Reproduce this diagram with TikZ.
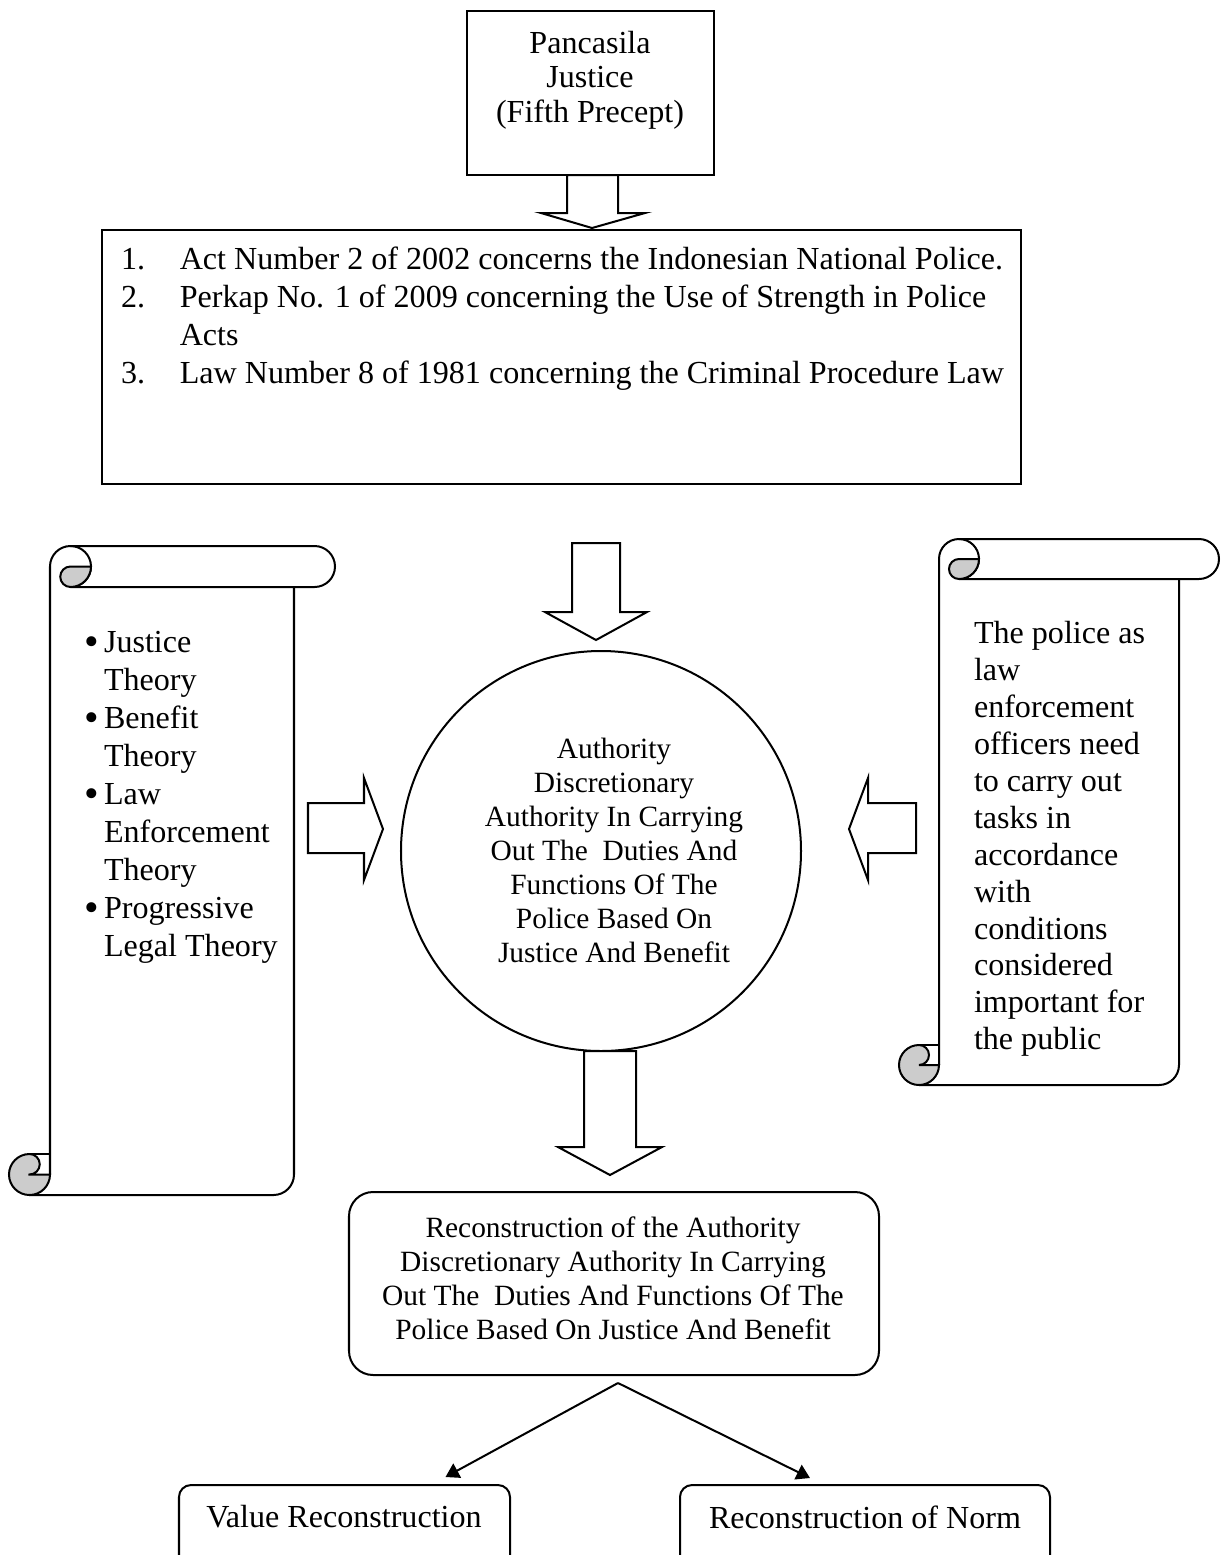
\documentclass[tikz,border=0pt]{standalone}
\usepackage{fontspec}
\setmainfont{Liberation Serif}
\usetikzlibrary{arrows.meta,calc,fit,positioning}

\begin{document}
\begin{tikzpicture}[x=0.374pt,y=-0.374pt,line width=0.75pt,
  box/.style={draw,inner sep=0pt},
  txt/.style={inner sep=0pt},
  hollow/.style={draw,fill=white},
  curl/.style={draw,fill=black!20},
  conn/.style={-{Triangle[length=5pt,width=6pt]}}]
  \useasboundingbox (0,0) rectangle (1227,1555);
  \clip (0,0) rectangle (1227,1555);
  % scroll: left, top, right, bottom, roll height
  \def\scrollshape#1#2#3#4#5{
    \draw ({#1+#5},{#4-#5/2}) -- ({#1+#5},{#2+#5/2})
      arc[start angle=180,end angle=270,radius={#5/2}] -- ({#3-#5/2},#2)
      arc[start angle=270,end angle=450,radius={#5/2}] -- ({#1+1.5*#5},{#2+#5});
    \draw ({#1+1.5*#5},#2) arc[start angle=270,end angle=450,radius={#5/2}];
    \draw[curl] ({#1+1.5*#5},{#2+#5/2}) -- ({#1+2*#5},{#2+#5/2})
      arc[start angle=0,end angle=90,radius={#5/2}]
      arc[start angle=90,end angle=270,radius={#5/4}] -- cycle;
    \draw ({#3-#5},{#2+#5}) -- ({#3-#5},{#4-#5/2})
      arc[start angle=0,end angle=90,radius={#5/2}] -- ({#1+#5/2},#4);
    \draw[curl] ({#1+#5/2},{#4-#5/2}) -- ({#1+#5},{#4-#5/2})
      arc[start angle=0,end angle=270,radius={#5/2}]
      arc[start angle=270,end angle=450,radius={#5/4}] -- cycle;
    \draw ({#1+#5/2},{#4-#5}) -- ({#1+#5},{#4-#5});
  }
  \def\bul{\raisebox{-1.1pt}{\scalebox{1.3}{\textbullet}}}

  % top boxes
  \node[box,fit={(467,11)(714,175)}] (pancasila) {};
  \node[txt,font=\fontsize{12}{12.9}\selectfont] (pancasilatext) at (590,81)
    {\begin{tabular}{@{}c@{}}Pancasila\\Justice\\(Fifth Precept)\end{tabular}};
  \node[box,fit={(102,230)(1021,484)}] (laws) {};
  \node[txt,anchor=north west,font=\fontsize{12}{14.2}\selectfont] (lawlist) at (120,242)
    {\begin{tabular}{@{}p{22pt}@{}l@{}}
      1. & Act Number 2 of 2002 concerns the Indonesian National Police.\\
      2. & Perkap No. 1 of 2009 concerning the Use of Strength in Police\\
         & Acts\\
      3. & Law Number 8 of 1981 concerning the Criminal Procedure Law
    \end{tabular}};
  \draw[hollow] (567,175) -- (567,213) -- (541,213) -- (592,228) -- (645,213) -- (618,213) -- (618,175) -- cycle;

  % scrolls
  \scrollshape{9}{546}{335}{1195}{41}
  \scrollshape{899}{539}{1219}{1085}{40}
  \node[txt,anchor=north west,font=\fontsize{12}{14.2}\selectfont] (theories) at (83,625)
    {\begin{tabular}{@{}p{7.5pt}@{}l@{}}
      \bul & Justice\\ & Theory\\
      \bul & Benefit\\ & Theory\\
      \bul & Law\\ & Enforcement\\ & Theory\\
      \bul & Progressive\\ & Legal Theory
    \end{tabular}};
  \node[txt,anchor=north west,font=\fontsize{12}{13.8}\selectfont] (policetext) at (973,617)
    {\begin{tabular}{@{}l@{}}
      The police as\\ law\\ enforcement\\ officers need\\ to carry out\\ tasks in\\
      accordance\\ with\\ conditions\\ considered\\ important for\\ the public
    \end{tabular}};

  % centre
  \node[draw,circle,inner sep=0pt,minimum size=149.6pt] (authority) at (601,851) {};
  \node[txt,font=\fontsize{11}{12.7}\selectfont] (authoritytext) at (614,854)
    {\begin{tabular}{@{}c@{}}Authority\\Discretionary\\Authority In Carrying\\
      Out The\ \ Duties And\\Functions Of The\\Police Based On\\Justice And Benefit\end{tabular}};
  \draw[hollow] (572,543) -- (620,543) -- (620,612) -- (647,612) -- (596,640) -- (545,612) -- (572,612) -- cycle;
  \draw[hollow] (308,803) -- (364,803) -- (364,778) -- (383,829) -- (364,880) -- (364,853) -- (308,853) -- cycle;
  \draw[hollow] (916,803) -- (868,803) -- (868,778) -- (849,829) -- (868,880) -- (868,853) -- (916,853) -- cycle;
  \draw[hollow] (584,1051) -- (636,1051) -- (636,1147) -- (662,1147) -- (610,1175) -- (558,1147) -- (584,1147) -- cycle;

  % bottom
  \node[box,rounded corners=9pt,fit={(349,1192)(879,1375)}] (recon) {};
  \node[txt,font=\fontsize{11}{12.7}\selectfont] (recontext) at (613,1282)
    {\begin{tabular}{@{}c@{}}Reconstruction of the Authority\\Discretionary Authority In Carrying\\
      Out The\ \ Duties And Functions Of The\\Police Based On Justice And Benefit\end{tabular}};
  \node[box,rounded corners=4.5pt,fit={(179,1485)(510,1620)}] (value) {};
  \node[box,rounded corners=4.5pt,fit={(680,1485)(1050,1620)}] (norm) {};
  \node[txt,font=\fontsize{12}{13.8}\selectfont] (valuetext) at (344,1517) {Value Reconstruction};
  \node[txt,font=\fontsize{12}{13.8}\selectfont] (normtext) at (865,1517) {Reconstruction of Norm};
  \coordinate (split) at ($(recon.south)+(4,7)$);
  \draw[conn] (split) -- ($(value.north)+(101,-7)$);
  \draw[conn] (split) -- ($(norm.north)+(-55,-6)$);
\end{tikzpicture}
\end{document}
